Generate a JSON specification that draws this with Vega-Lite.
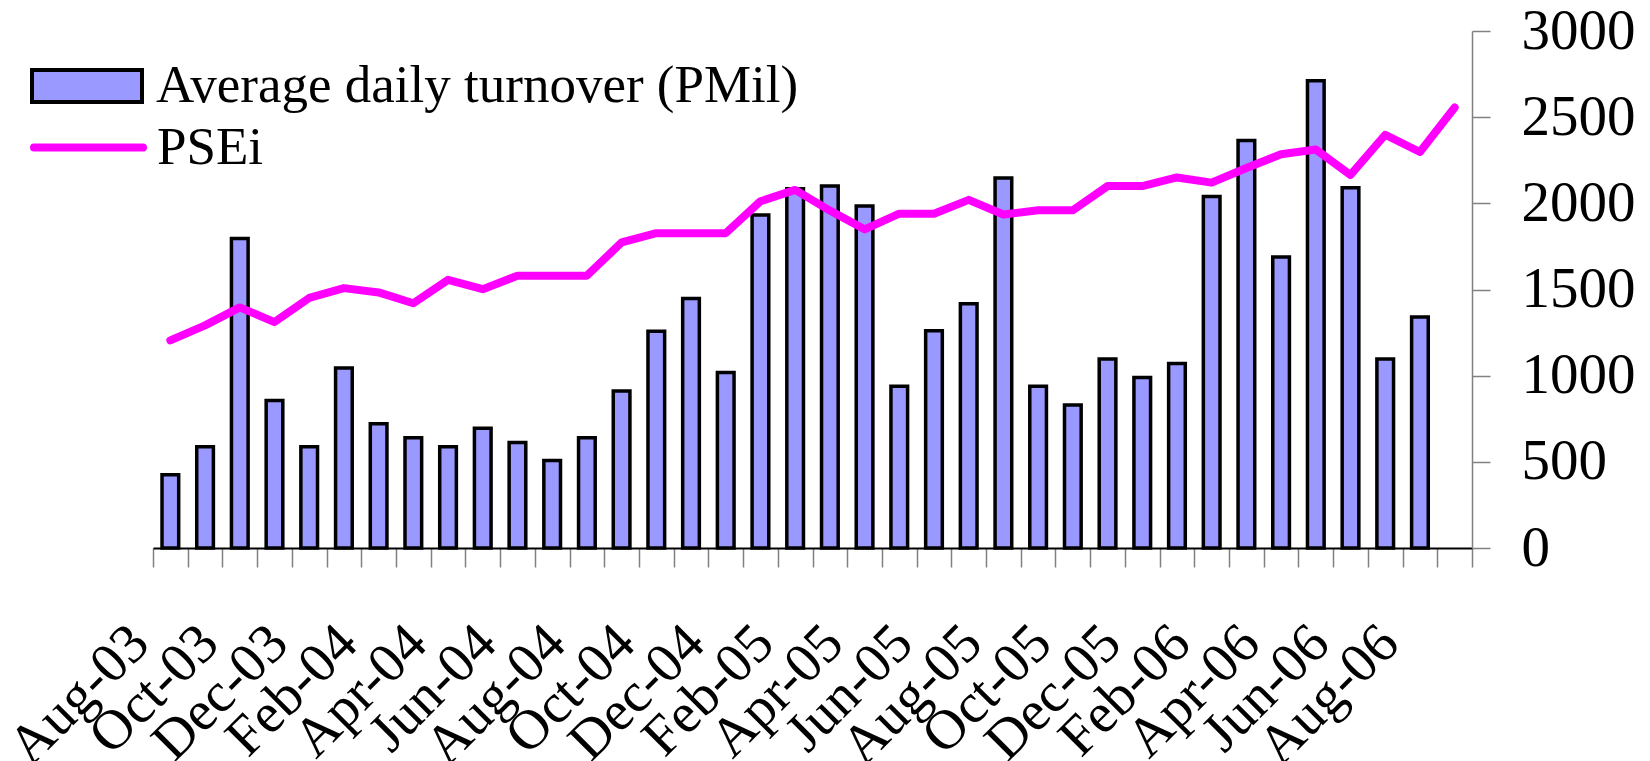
{
  "$schema": "https://vega.github.io/schema/vega-lite/v6.json",
  "width": 1319,
  "height": 517,
  "autosize": {"type": "none"},
  "padding": {"left": 153, "top": 31, "right": 178, "bottom": 213},
  "background": "white",
  "config": {"view": {"stroke": null}, "font": "Liberation Serif"},
  "data": {
    "values": [
      {"month": "Aug-03", "turnover": 425, "psei": 1205},
      {"month": "Sep-03", "turnover": 588, "psei": 1292},
      {"month": "Oct-03", "turnover": 1796, "psei": 1396},
      {"month": "Nov-03", "turnover": 856, "psei": 1311},
      {"month": "Dec-03", "turnover": 588, "psei": 1451},
      {"month": "Jan-04", "turnover": 1045, "psei": 1508},
      {"month": "Feb-04", "turnover": 721, "psei": 1483},
      {"month": "Mar-04", "turnover": 640, "psei": 1420},
      {"month": "Apr-04", "turnover": 588, "psei": 1556},
      {"month": "May-04", "turnover": 695, "psei": 1502},
      {"month": "Jun-04", "turnover": 612, "psei": 1580},
      {"month": "Jul-04", "turnover": 508, "psei": 1580},
      {"month": "Aug-04", "turnover": 640, "psei": 1580},
      {"month": "Sep-04", "turnover": 911, "psei": 1773},
      {"month": "Oct-04", "turnover": 1258, "psei": 1827},
      {"month": "Nov-04", "turnover": 1448, "psei": 1827},
      {"month": "Dec-04", "turnover": 1018, "psei": 1827},
      {"month": "Jan-05", "turnover": 1932, "psei": 2012},
      {"month": "Feb-05", "turnover": 2085, "psei": 2078},
      {"month": "Mar-05", "turnover": 2100, "psei": 1958},
      {"month": "Apr-05", "turnover": 1985, "psei": 1849},
      {"month": "May-05", "turnover": 938, "psei": 1940},
      {"month": "Jun-05", "turnover": 1260, "psei": 1940},
      {"month": "Jul-05", "turnover": 1418, "psei": 2020},
      {"month": "Aug-05", "turnover": 2147, "psei": 1935},
      {"month": "Sep-05", "turnover": 938, "psei": 1960},
      {"month": "Oct-05", "turnover": 830, "psei": 1960},
      {"month": "Nov-05", "turnover": 1097, "psei": 2100},
      {"month": "Dec-05", "turnover": 990, "psei": 2100},
      {"month": "Jan-06", "turnover": 1070, "psei": 2150},
      {"month": "Feb-06", "turnover": 2040, "psei": 2120},
      {"month": "Mar-06", "turnover": 2364, "psei": 2205},
      {"month": "Apr-06", "turnover": 1688, "psei": 2285},
      {"month": "May-06", "turnover": 2712, "psei": 2312},
      {"month": "Jun-06", "turnover": 2091, "psei": 2165},
      {"month": "Jul-06", "turnover": 1097, "psei": 2398},
      {"month": "Aug-06", "turnover": 1340, "psei": 2298},
      {"month": "Sep-06", "turnover": null, "psei": 2556}
    ]
  },
  "encoding": {
    "x": {
      "field": "month",
      "type": "ordinal",
      "sort": null,
      "scale": {"paddingInner": 0, "paddingOuter": 0},
      "axis": {
        "title": null,
        "labelAngle": -45,
        "labelAlign": "right",
        "labelBaseline": "alphabetic",
        "labelFont": "Liberation Serif",
        "labelFontSize": 56,
        "labelColor": "black",
        "labelOffset": -19,
        "labelPadding": 79,
        "labelOverlap": false,
        "labelBound": false,
        "labelFlush": false,
        "labelExpr": "indexof(['Aug','Oct','Dec','Feb','Apr','Jun'], slice(datum.label, 0, 3)) >= 0 ? datum.label : ''",
        "tickBand": "extent",
        "tickSize": 19,
        "tickColor": "#808080",
        "tickWidth": 1.5,
        "domainColor": "black",
        "domainWidth": 2
      }
    }
  },
  "layer": [
    {
      "mark": {"type": "bar", "width": {"band": 0.48}, "stroke": "black", "strokeWidth": 3.5},
      "encoding": {
        "y": {
          "field": "turnover",
          "type": "quantitative",
          "scale": {"domain": [0, 3000], "nice": false, "zero": true},
          "axis": {
            "orient": "right",
            "title": null,
            "format": "d",
            "values": [0, 500, 1000, 1500, 2000, 2500, 3000],
            "grid": false,
            "tickSize": 18,
            "tickColor": "#808080",
            "tickWidth": 1.5,
            "domainColor": "#808080",
            "domainWidth": 1.5,
            "labelFont": "Liberation Serif",
            "labelFontSize": 57,
            "labelColor": "black",
            "labelPadding": 31,
            "labelAlign": "left",
            "labelBaseline": "middle",
            "labelFlush": false,
            "labelOverlap": false,
            "labelBound": false
          }
        },
        "fill": {
          "datum": "Average daily turnover (PMil)",
          "scale": {"range": ["#9999FF"]},
          "legend": {
            "orient": "none",
            "legendX": -123,
            "legendY": -2,
            "title": null,
            "padding": 0,
            "symbolType": "M-1,-0.29H1V0.29H-1Z",
            "symbolSize": 12100,
            "symbolStrokeColor": "black",
            "symbolStrokeWidth": 4,
            "labelFont": "Liberation Serif",
            "labelFontSize": 53,
            "labelColor": "black",
            "labelOffset": 12,
            "labelLimit": 1000,
            "encode": {"symbols": {"update": {"stroke": {"value": "black"}, "strokeWidth": {"value": 4}, "opacity": {"value": 1}}}}
          }
        }
      }
    },
    {
      "mark": {"type": "line", "strokeWidth": 8, "strokeCap": "round", "strokeJoin": "round"},
      "encoding": {
        "y": {"field": "psei", "type": "quantitative"},
        "stroke": {
          "datum": "PSEi",
          "scale": {"range": ["#FF00FF"]},
          "legend": {
            "orient": "none",
            "legendX": -123,
            "legendY": 58,
            "title": null,
            "padding": 0,
            "symbolType": "stroke",
            "symbolSize": 11881,
            "symbolStrokeWidth": 8,
            "labelFont": "Liberation Serif",
            "labelFontSize": 53,
            "labelColor": "black",
            "labelOffset": 10,
            "labelLimit": 1000,
            "encode": {"symbols": {"update": {"strokeCap": {"value": "round"}}}}
          }
        }
      }
    }
  ]
}
